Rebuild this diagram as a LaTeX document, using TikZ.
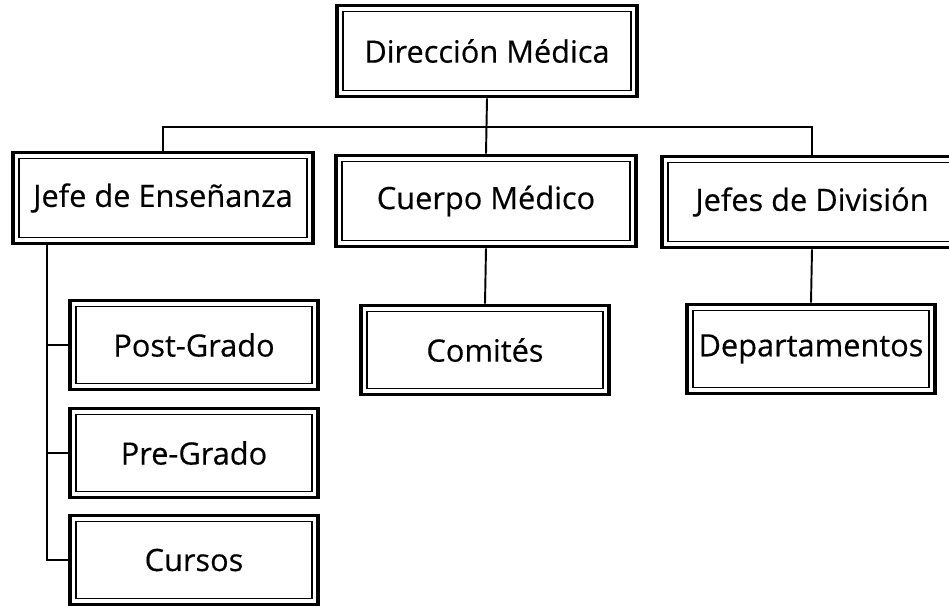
\documentclass[tikz,border=0pt]{standalone}
\usepackage{fontspec}
\newfontfamily\organfont{Open Sans}[FakeBold=0.4]
\begin{document}
\begin{tikzpicture}[x=0.02cm,y=-0.02cm,
  caja/.style={draw, line width=2.2pt, minimum width=6cm, minimum height=1.82cm,
    font=\organfont\fontsize{17.5}{20}\selectfont,
    path picture={\draw[line width=0.8pt] ([shift={(3.4pt,3.4pt)}]path picture bounding box.south west) rectangle ([shift={(-3.4pt,-3.4pt)}]path picture bounding box.north east);}},
  cajita/.style={caja, minimum width=4.96cm, minimum height=1.78cm},
  linea/.style={line width=1.1pt}]
\useasboundingbox (0,0) rectangle (949,605);
\node[caja] (dir) at (487,51) {Dirección Médica};
\node[caja] (ens) at (163,198) {Jefe de Enseñanza};
\node[caja] (cue) at (486,201) {Cuerpo Médico};
\node[caja] (div) at (812,202) {Jefes de División};
\node[cajita] (post) at (194,345) {Post-Grado};
\node[cajita] (pre) at (194,453) {Pre-Grado};
\node[cajita] (cur) at (194,560) {Cursos};
\node[cajita] (com) at (485,350) {Comités};
\node[cajita] (dep) at (811,349) {Departamentos};
\coordinate (bus) at (487,127);
\coordinate (eje) at (47,243);
	\draw[linea] (dir.south) -- (cue.north);
\draw[linea] (ens.north) |- (bus) -| (div.north);
\draw[linea] (cue.south) -- (com.north);
\draw[linea] (div.south) -- (dep.north);
\draw[linea] (eje) |- (cur.west);
\draw[linea] (eje |- post) -- (post.west);
\draw[linea] (eje |- pre) -- (pre.west);
\end{tikzpicture}
\end{document}
